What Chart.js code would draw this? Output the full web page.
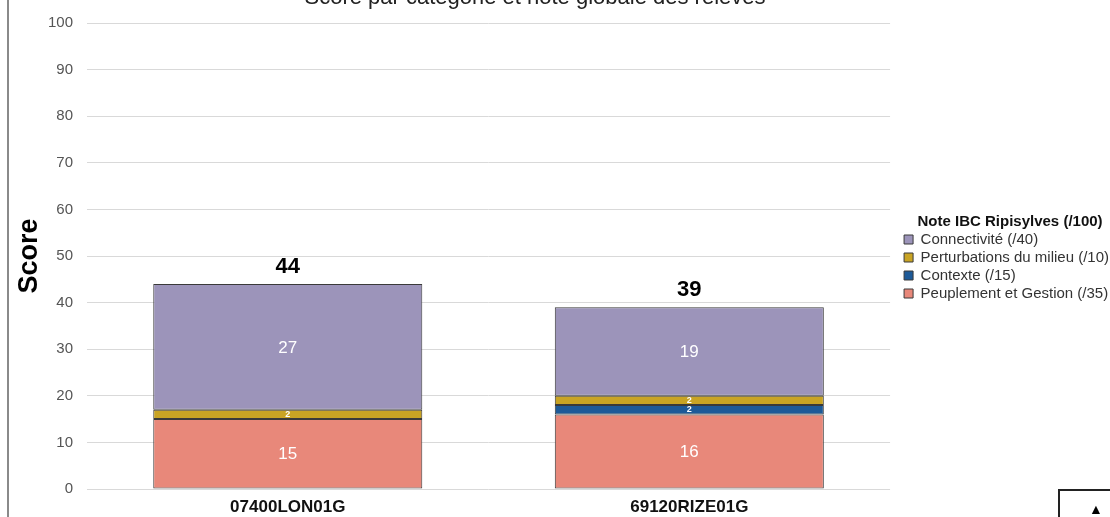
<!DOCTYPE html>
<html>
<head>
<meta charset="utf-8">
<script src="https://cdn.jsdelivr.net/npm/chart.js@4"></script>
<style>
  html, body { margin: 0; padding: 0; background: #fff; }
  #wrap { position: relative; width: 1110px; height: 517px; overflow: hidden; }
  #leftLine { position: absolute; left: 7px; top: 0; width: 2px; height: 517px; background: #8a8a8a; }
  #cornerBox { position: absolute; left: 1058px; top: 489px; width: 60px; height: 40px; border: 2px solid #222;
    font: 14px "Liberation Sans", Arial, sans-serif; color: #000; box-sizing: border-box; padding: 10px 0 0 29px; }
</style>
</head>
<body>
<div id="wrap">
  <canvas id="scoreChart" width="1110" height="517"></canvas>
  <div id="leftLine"></div>
  <div id="cornerBox">▲</div>
</div>
<script>
// Data
const releves = ["07400LON01G", "69120RIZE01G"];
const peuplement = [15, 16];
const contexte = [0, 2];
const perturbations = [2, 2];
const connectivite = [27, 19];
const yTicks = [0, 10, 20, 30, 40, 50, 60, 70, 80, 90, 100];

const FONT = "'Liberation Sans', Arial, sans-serif";

// totals above the bars + value labels inside segments
const labelPlugin = {
  id: "labels",
  afterInit(chart) {
    // nudge the legend a bit to the right of its box
    const lg = chart.legend;
    const draw = lg.draw.bind(lg);
    lg.draw = function (area) {
      this.ctx.save();
      this.ctx.translate(11, -2);
      draw(area);
      this.ctx.restore();
    };
  },
  afterDatasetsDraw(chart) {
    const ctx = chart.ctx;
    ctx.save();
    ctx.textAlign = "center";
    ctx.textBaseline = "middle";
    chart.data.datasets.forEach((ds, i) => {
      const meta = chart.getDatasetMeta(i);
      meta.data.forEach((bar, j) => {
        const v = ds.data[j];
        if (!v) return;
        const y = (bar.y + bar.base) / 2;
        ctx.fillStyle = "#fff";
        ctx.font = v < 5 ? "bold 9px " + FONT : "17px " + FONT;
        ctx.fillText(v, bar.x, y + (v < 5 ? 0 : 1));
      });
    });
    // totals
    const last = chart.getDatasetMeta(chart.data.datasets.length - 1);
    last.data.forEach((bar, j) => {
      const total = chart.data.datasets.reduce((s, d) => s + d.data[j], 0);
      ctx.fillStyle = "#000";
      ctx.font = "bold 22px " + FONT;
      ctx.fillText(total, bar.x, bar.y - 17);
    });
    // cut-off title at the top
    ctx.font = "22px " + FONT;
    ctx.textBaseline = "alphabetic";
    ctx.fillStyle = "#222";
    ctx.fillText("Score par catégorie et note globale des relevés", 535, 4);
    ctx.restore();
  }
};

const border = "#3a3a3a";

new Chart(document.getElementById("scoreChart"), {
  type: "bar",
  data: {
    labels: releves,
    datasets: [
      { label: "Peuplement et Gestion (/35)", data: peuplement, backgroundColor: "#e8887a" },
      { label: "Contexte (/15)", data: contexte, backgroundColor: "#1d5a98" },
      { label: "Perturbations du milieu (/10)", data: perturbations, backgroundColor: "#c9a424" },
      { label: "Connectivité (/40)", data: connectivite, backgroundColor: "#9c94ba" }
    ].map(d => Object.assign(d, {
      borderColor: border,
      borderWidth: 1,
      borderSkipped: false,
      barPercentage: 0.67,
      categoryPercentage: 1
    }))
  },
  options: {
    responsive: false,
    animation: false,
    layout: { padding: { top: 5, left: 10, right: 2, bottom: 0 } },
    plugins: {
      tooltip: { enabled: false },
      title: { display: false },
      legend: {
        position: "right",
        reverse: true,
        align: "center",
        title: {
          display: true,
          text: "Note IBC Ripisylves (/100)",
          font: { family: FONT, size: 15, weight: "bold", lineHeight: 1 },
          color: "#111",
          padding: { top: 0, bottom: 0 },
          position: "center"
        },
        labels: {
          boxWidth: 9,
          boxHeight: 9,
          padding: 3,
          color: "#333",
          font: { family: FONT, size: 15 }
        }
      }
    },
    scales: {
      x: {
        stacked: true,
        grid: { display: false, drawTicks: false },
        border: { display: false },
        ticks: { color: "#111", font: { family: FONT, size: 17, weight: "bold" }, padding: 8 },
        afterFit: s => { s.height = 28; }
      },
      y: {
        stacked: true,
        min: 0,
        max: 100,
        afterBuildTicks: s => { s.ticks = yTicks.map(v => ({ value: v })); },
        grid: { color: "#d9d9d9", lineWidth: 1, drawTicks: false },
        border: { display: false },
        ticks: { color: "#555", font: { family: FONT, size: 15 }, padding: 14 },
        title: {
          display: true,
          text: "Score",
          color: "#000",
          font: { family: FONT, size: 27, weight: "bold" },
          padding: { top: 3, bottom: 0 }
        },
        afterFit: s => { s.width = 77; }
      }
    }
  },
  plugins: [labelPlugin]
});
</script>
</body>
</html>
